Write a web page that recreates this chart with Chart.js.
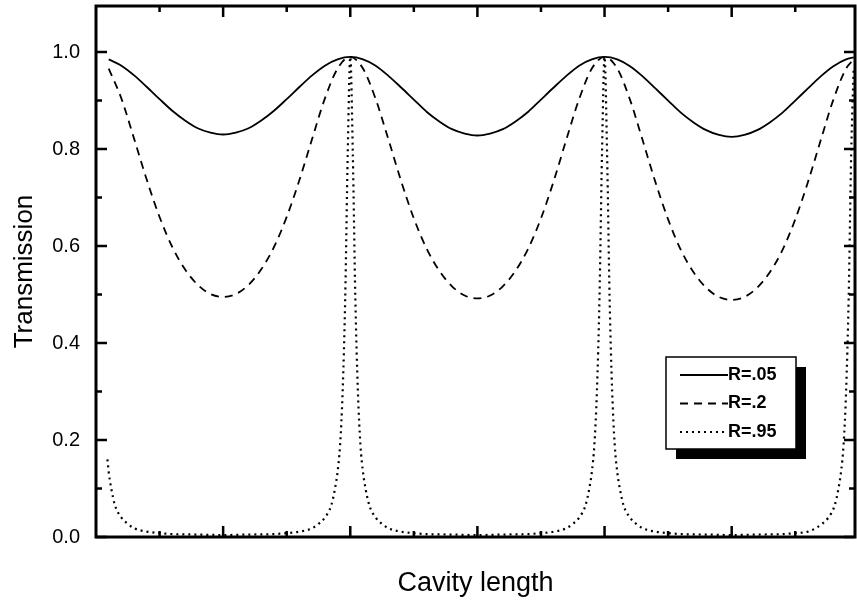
<!DOCTYPE html>
<html>
<head>
<meta charset="utf-8">
<script src="https://cdn.jsdelivr.net/npm/chart.js@4/dist/chart.umd.min.js"></script>
<style>
html,body{margin:0;padding:0;background:#fff;}
canvas{display:block;}
</style>
</head>
<body>
<canvas id="chart" width="857" height="608"></canvas>
<script>
// x positions (cavity length, arbitrary units) for the R=.05 and R=.2 curves
const xSmooth = [0.1,0.2,0.3,0.4,0.5,0.6,0.7,0.8,0.9,1.0,
  1.1,1.2,1.3,1.4,1.5,1.6,1.7,1.8,1.9,2.0,
  2.1,2.2,2.3,2.4,2.5,2.6,2.7,2.8,2.9,3.0,
  3.1,3.2,3.3,3.4,3.5,3.6,3.7,3.8,3.9,4.0,
  4.1,4.2,4.3,4.4,4.5,4.6,4.7,4.8,4.9,5.0,
  5.1,5.2,5.3,5.4,5.5,5.6,5.7,5.8,5.9,5.96];

const r05 = [0.985,0.972,0.952,0.928,0.903,0.879,0.859,0.843,0.834,0.830,
  0.834,0.843,0.859,0.879,0.903,0.928,0.952,0.972,0.985,0.990,
  0.985,0.972,0.951,0.927,0.902,0.877,0.857,0.841,0.832,0.828,
  0.832,0.841,0.857,0.877,0.902,0.927,0.951,0.972,0.985,0.990,
  0.985,0.971,0.950,0.925,0.900,0.875,0.855,0.839,0.829,0.825,
  0.829,0.839,0.855,0.875,0.900,0.925,0.950,0.971,0.985,0.989];

const r2 = [0.966,0.904,0.821,0.736,0.660,0.598,0.552,0.520,0.501,0.495,
  0.501,0.520,0.552,0.598,0.660,0.736,0.821,0.904,0.966,0.990,
  0.966,0.903,0.820,0.734,0.657,0.595,0.549,0.517,0.498,0.492,
  0.498,0.517,0.549,0.595,0.657,0.734,0.820,0.903,0.966,0.990,
  0.966,0.902,0.818,0.732,0.655,0.592,0.546,0.514,0.495,0.489,
  0.495,0.514,0.546,0.592,0.655,0.732,0.818,0.902,0.966,0.985];

// the R=.95 curve needs more points near the sharp peaks
const xSharp = [0.09,0.1,0.12,0.15,0.2,0.25,0.3,0.4,0.5,0.6,0.8,1.0,1.2,1.4,1.5,1.6,1.7,1.75,1.8,1.85,1.88,1.9,1.92,1.94,1.96,1.98,
  2.0,2.02,2.04,2.06,2.08,2.1,2.12,2.15,2.2,2.25,2.3,2.4,2.5,2.6,2.8,3.0,3.2,3.4,3.5,3.6,3.7,3.75,3.8,3.85,3.88,3.9,3.92,3.94,3.96,3.98,
  4.0,4.02,4.04,4.06,4.08,4.1,4.12,4.15,4.2,4.25,4.3,4.4,4.5,4.6,4.8,5.0,5.2,5.4,5.5,5.6,5.66,5.71,5.76,5.81,5.84,5.86,5.88,5.9,5.92,5.94,5.96];

const r95 = [0.16,0.134,0.10,0.065,0.04,0.027,0.018,0.011,0.008,0.006,0.005,0.004,0.005,0.006,0.008,0.011,0.018,0.027,0.04,0.065,0.10,0.134,0.19,0.30,0.49,0.79,
  0.99,0.79,0.49,0.30,0.19,0.134,0.10,0.065,0.04,0.027,0.018,0.011,0.008,0.006,0.005,0.004,0.005,0.006,0.008,0.011,0.018,0.027,0.04,0.065,0.10,0.134,0.19,0.30,0.49,0.79,
  0.99,0.79,0.49,0.30,0.19,0.134,0.10,0.065,0.04,0.027,0.018,0.011,0.008,0.006,0.005,0.004,0.005,0.006,0.008,0.011,0.018,0.027,0.04,0.065,0.10,0.134,0.19,0.30,0.49,0.79,0.97];

const seriesNames = ["R=.05","R=.2","R=.95"];

const yTicks = [0,0.2,0.4,0.6,0.8,1.0];
const yMinorTicks = [0.1,0.3,0.5,0.7,0.9];
const xTicks = [1,2,3,4,5];
const xMinorTicks = [0.5,1.5,2.5,3.5,4.5,5.5];

const pts = (xs, ys) => xs.map((v,i)=>({x:v, y:ys[i]}));

const frame = {
  id:"frame",
  afterDraw(chart){
    const {ctx, chartArea:a, scales:{x,y}} = chart;
    ctx.save();
    ctx.strokeStyle = "#000";
    ctx.lineWidth = 3;
    ctx.strokeRect(a.left, a.top, a.right-a.left, a.bottom-a.top);

    // inward tick marks on all four sides
    ctx.lineWidth = 2.5;
    ctx.beginPath();
    const tx = (v,len)=>{
      const p = x.getPixelForValue(v);
      ctx.moveTo(p,a.bottom); ctx.lineTo(p,a.bottom-len);
      ctx.moveTo(p,a.top); ctx.lineTo(p,a.top+len);
    };
    const ty = (v,len)=>{
      const p = y.getPixelForValue(v);
      ctx.moveTo(a.left,p); ctx.lineTo(a.left+len,p);
      ctx.moveTo(a.right,p); ctx.lineTo(a.right-len,p);
    };
    xTicks.forEach(v=>tx(v,11));
    xMinorTicks.forEach(v=>tx(v,6));
    yTicks.forEach(v=>ty(v,11));
    yMinorTicks.forEach(v=>ty(v,6));
    ctx.stroke();

    // legend box with drop shadow
    const bx = 666, by = 357, bw = 130, bh = 92;
    ctx.fillStyle = "#000";
    ctx.fillRect(bx+10, by+10, bw, bh);
    ctx.fillStyle = "#fff";
    ctx.fillRect(bx, by, bw, bh);
    ctx.lineWidth = 1.5;
    ctx.strokeRect(bx, by, bw, bh);

    ctx.font = "bold 18px 'Liberation Sans', Arial, sans-serif";
    ctx.textBaseline = "middle";
    ctx.fillStyle = "#000";
    chart.data.datasets.forEach((ds,i)=>{
      const ly = by + 18 + i*28.5;
      ctx.save();
      ctx.lineWidth = ds.borderWidth;
      ctx.setLineDash(ds.borderDash || []);
      ctx.beginPath();
      ctx.moveTo(bx+14, ly);
      ctx.lineTo(bx+62, ly);
      ctx.stroke();
      ctx.restore();
      ctx.fillText(ds.label, bx+62, ly);
    });
    ctx.restore();
  }
};

new Chart(document.getElementById("chart"), {
  type:"line",
  data:{
    datasets:[
      {label:seriesNames[0], data:pts(xSmooth,r05), borderColor:"#000", borderWidth:1.8, pointRadius:0, cubicInterpolationMode:"monotone"},
      {label:seriesNames[1], data:pts(xSmooth,r2), borderColor:"#000", borderWidth:1.8, borderDash:[8,6], pointRadius:0, cubicInterpolationMode:"monotone"},
      {label:seriesNames[2], data:pts(xSharp,r95), borderColor:"#000", borderWidth:2.2, borderDash:[2,4], pointRadius:0, cubicInterpolationMode:"monotone"}
    ]
  },
  options:{
    responsive:false,
    animation:false,
    layout:{padding:{top:6, right:2, left:0, bottom:0}},
    plugins:{legend:{display:false}, tooltip:{enabled:false}},
    scales:{
      x:{
        type:"linear", min:0, max:5.97,
        grid:{display:false, drawTicks:false},
        border:{display:false},
        ticks:{display:false},
        title:{display:true, text:"Cavity length", color:"#000",
          font:{family:"'Liberation Sans', Arial, sans-serif", size:27}, padding:{top:0,bottom:8}},
        afterFit(s){ s.height = 71; s.paddingLeft = 0; s.paddingRight = 0; }
      },
      y:{
        min:0, max:1.095,
        grid:{display:false, drawTicks:true, tickLength:16},
        border:{display:false},
        afterBuildTicks(s){ s.ticks = yTicks.map(v=>({value:v})); },
        ticks:{color:"#000", padding:0, callback:v=>v.toFixed(1),
          font:{family:"'Liberation Sans', Arial, sans-serif", size:20}},
        title:{display:true, text:"Transmission", color:"#000",
          font:{family:"'Liberation Sans', Arial, sans-serif", size:26}, padding:{top:9,bottom:0}},
        afterFit(s){ s.width = 96; s.paddingTop = 0; s.paddingBottom = 0; }
      }
    }
  },
  plugins:[frame]
});
</script>
</body>
</html>
